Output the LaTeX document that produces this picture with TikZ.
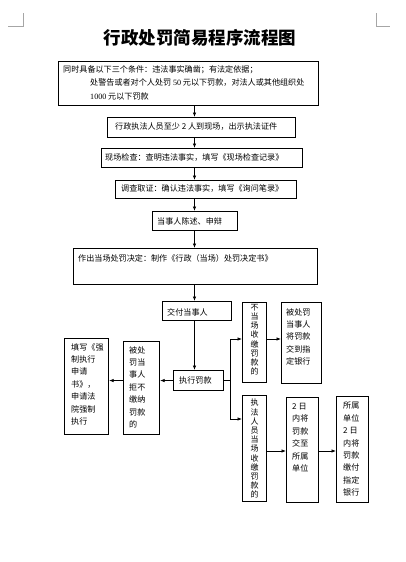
\documentclass[tikz,border=0pt]{standalone}
\usepackage{fontspec}
\setmainfont{Noto Sans CJK SC}
\newfontfamily\numfont{Liberation Serif}
\usetikzlibrary{arrows.meta}
\begin{document}
\begin{tikzpicture}[x=1pt,y=-1pt,
  box/.style={draw=black,line width=1.1pt,rectangle,inner sep=0pt,anchor=north west},
  txt/.style={inner sep=0pt,align=left,font=\fontsize{8.1}{12.4}\selectfont},
  vtxt/.style={inner sep=0pt,align=center,font=\fontsize{8}{9.2}\selectfont},
  arr/.style={line width=0.7pt,-{Latex[length=4.5pt,width=3.5pt]}},
  ln/.style={line width=0.7pt}]
\useasboundingbox (0,0) rectangle (406,562);
\fill[white] (0,0) rectangle (406,562);
% corner marks
\draw[gray!70,line width=0.6pt] (23,13) -- (23,26) -- (8,26);
\draw[gray!70,line width=0.6pt] (376,13) -- (376,26) -- (390,26);
% title
\node[inner sep=0pt,font=\fontsize{17.5}{20}\selectfont\bfseries] (title) at (200,38) {行政处罚简易程序流程图};
% boxes
\node[box,minimum width=260pt,minimum height=44pt] (b1) at (58,61) {};
\node[box,minimum width=188pt,minimum height=20pt] (b2) at (107,117) {};
\node[box,minimum width=201pt,minimum height=19pt] (b3) at (101,148) {};
\node[box,minimum width=181pt,minimum height=18pt] (b4) at (115,180) {};
\node[box,minimum width=85pt,minimum height=19pt] (b5) at (152,211) {};
\node[box,minimum width=244pt,minimum height=36pt] (b6) at (73,248) {};
\node[box,minimum width=69pt,minimum height=19pt] (b7) at (162,301) {};
\node[box,minimum width=50pt,minimum height=20pt] (b8) at (173,370) {};
\node[box,minimum width=36pt,minimum height=93pt] (b9) at (123,341) {};
\node[box,minimum width=44pt,minimum height=96pt] (b10) at (64,338) {};
\node[box,minimum width=24pt,minimum height=80pt] (b11) at (242,302) {};
\node[box,minimum width=40pt,minimum height=81pt] (b12) at (281,302) {};
\node[box,minimum width=24pt,minimum height=106pt] (b13) at (242,395) {};
\node[box,minimum width=32pt,minimum height=105pt] (b14) at (286,397) {};
\node[box,minimum width=32pt,minimum height=106pt] (b15) at (336,396) {};
% texts
\node[txt,anchor=west] (t1a) at (63,70) {同时具备以下三个条件：违法事实确凿；有法定依据；};
\node[txt,anchor=west] (t1b) at (90,83) {处警告或者对个人处罚 {\numfont 50} 元以下罚款，对法人或其他组织处};
\node[txt,anchor=west] (t1c) at (90,96) {{\numfont 1000} 元以下罚款};
\node[txt,anchor=west] (t2) at (115,127) {行政执法人员至少 2 人到现场，出示执法证件};
\node[txt,anchor=west] (t3) at (105,158) {现场检查：查明违法事实，填写《现场检查记录》};
\node[txt,anchor=west] (t4) at (121,189) {调查取证：确认违法事实，填写《询问笔录》};
\node[txt,anchor=west] (t5) at (157,221) {当事人陈述、申辩};
\node[txt,anchor=west] (t6) at (78,258) {作出当场处罚决定：制作《行政（当场）处罚决定书》};
\node[txt,anchor=west] (t7) at (167,312) {交付当事人};
\node[txt,anchor=west] (t8) at (179,380) {执行罚款};
\node[txt,anchor=north west] (t9) at (129,346) {被处\\罚当\\事人\\拒不\\缴纳\\罚款\\的};
\node[txt,anchor=north west] (t10) at (71,343) {填写《强\\制执行\\申请\\书》，\\申请法\\院强制\\执行};
\node[vtxt,anchor=north] (t11) at (b11.north |- 0,304) {不\\当\\场\\收\\缴\\罚\\款\\的};
\node[txt,anchor=north west] (t12) at (286,308) {被处罚\\当事人\\将罚款\\交到指\\定银行};
\node[vtxt,anchor=north] (t13) at (b13.north |- 0,399) {执\\法\\人\\员\\当\\场\\收\\缴\\罚\\款\\的};
\node[txt,anchor=north west] (t14) at (292,403) {2 日\\内将\\罚款\\交至\\所属\\单位};
\node[txt,anchor=north west] (t15) at (343,402) {所属\\单位\\2 日\\内将\\罚款\\缴付\\指定\\银行};
% connectors
\coordinate (sp) at (194.5,0);
\draw[arr] (b1.south -| sp) -- (b2.north -| sp);
\draw[arr] (b2.south -| sp) -- (b3.north -| sp);
\draw[arr] (b3.south -| sp) -- (b4.north -| sp);
\draw[arr] (b4.south -| sp) -- (b5.north -| sp);
\draw[arr] (b5.south -| sp) -- (b6.north -| sp);
\draw[arr] (b6.south -| sp) -- (b7.north -| sp);
\draw[arr] (b7.south -| sp) -- (b8.north -| sp);
\draw[arr] (b8.west) -- (b9.east |- b8.west);
\draw[arr] (b9.west |- b8.west) -- (b10.east |- b8.west);
\coordinate (j1) at (230,339);
\coordinate (j2) at (230,419);
\coordinate (j3) at (0,451);
\draw[ln] (b8.east) -- (b8.east -| j1);
\draw[ln] (j1) -- (j2);
\draw[arr] (j1) -- (j1 -| b11.west);
\draw[arr] (j2) -- (j2 -| b13.west);
\draw[arr] (b11.east |- j1) -- (b12.west |- j1);
\draw[arr] (b13.east |- j3) -- (b14.west |- j3);
\draw[arr] (b14.east |- j3) -- (b15.west |- j3);
\end{tikzpicture}
\end{document}
